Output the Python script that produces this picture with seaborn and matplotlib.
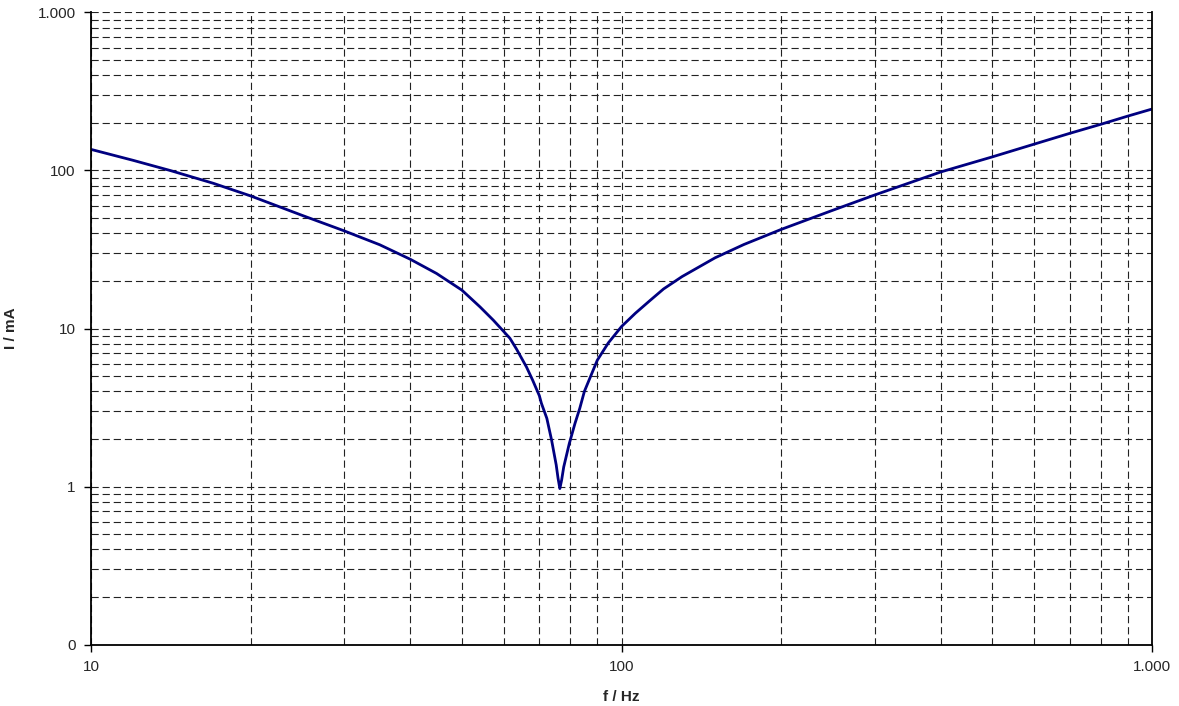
import numpy as np
import pandas as pd
import matplotlib
matplotlib.use("Agg")
import matplotlib.pyplot as plt
import matplotlib.ticker as mticker
import seaborn as sns

# Data
freq_hz = [10, 12, 14.1, 17, 20, 25, 30, 35, 40, 44.8, 50, 54.1, 57.3, 60,
           61.6, 63.4, 66.2, 68, 70, 70.6, 72.3, 73.8, 75.3, 75.9, 76.5, 77.1,
           77.8, 79.7, 81.7, 83.4, 85.1, 90, 94.4, 100, 106.2, 113.3, 120, 130,
           150, 170, 200, 250, 300, 400, 500, 600, 700, 800, 900, 1000]
current_ma = [136, 116, 100, 83, 69, 52, 41.5, 33.9, 27.4, 22.3, 17.5, 13.7,
              11.3, 9.55, 8.67, 7.4, 5.7, 4.7, 3.75, 3.37, 2.7, 1.97, 1.37,
              1.13, 0.97, 1.1, 1.33, 1.87, 2.51, 3.12, 4.0, 6.3, 8.1, 10.3,
              12.5, 15.1, 17.8, 21.3, 28.0, 34.0, 42.4, 56, 70, 98, 122, 147,
              172, 196, 221, 245]

x_ticks = [10, 100, 1000]
x_tick_labels = ["10", "100", "1.000"]
y_ticks = [0.1, 1, 10, 100, 1000]
y_tick_labels = ["0", "1", "10", "100", "1.000"]

df = pd.DataFrame({"f": freq_hz, "I": current_ma})

sns.set_style("white")
plt.rcParams["font.family"] = ["Liberation Sans", "DejaVu Sans"]

fig = plt.figure(figsize=(11.79, 7.06), dpi=100)
ax = fig.add_axes([0.0772, 0.0871, 0.9, 0.8952])

ax.set_xscale("log")
ax.set_yscale("log")
ax.set_xlim(10, 1000)
ax.set_ylim(0.1, 1000)

grid_kw = dict(color="#222222", linewidth=0.8, dashes=(6.5, 3.5))
ax.xaxis.set_minor_locator(mticker.LogLocator(base=10, subs=np.arange(2, 10)))
ax.yaxis.set_minor_locator(mticker.LogLocator(base=10, subs=np.arange(2, 10)))
ax.grid(True, which="both", axis="both", linestyle="--", **grid_kw)
ax.set_axisbelow(True)

sns.lineplot(data=df, x="f", y="I", ax=ax, color="#000080", linewidth=2.0,
             legend=False)
for ln in ax.get_lines():
    ln.set_solid_joinstyle("round")

ax.set_xticks(x_ticks)
ax.set_xticklabels(x_tick_labels)
ax.set_yticks(y_ticks)
ax.set_yticklabels(y_tick_labels)
ax.xaxis.set_minor_formatter(mticker.NullFormatter())
ax.yaxis.set_minor_formatter(mticker.NullFormatter())

ax.tick_params(axis="both", which="major", direction="out", length=5,
               width=1, color="black", labelsize=11, pad=6,
               bottom=True, left=True)
ax.tick_params(axis="both", which="minor", length=0)

for side in ["left", "bottom", "right"]:
    ax.spines[side].set_visible(True)
    ax.spines[side].set_color("black")
    ax.spines[side].set_linewidth(1.3)
ax.spines["top"].set_visible(False)

ax.set_xlabel("f / Hz", fontsize=11, fontweight="bold", labelpad=12)
ax.set_ylabel("I / mA", fontsize=11, fontweight="bold", labelpad=14)

fig.savefig("out.png", dpi=100, facecolor="white")
